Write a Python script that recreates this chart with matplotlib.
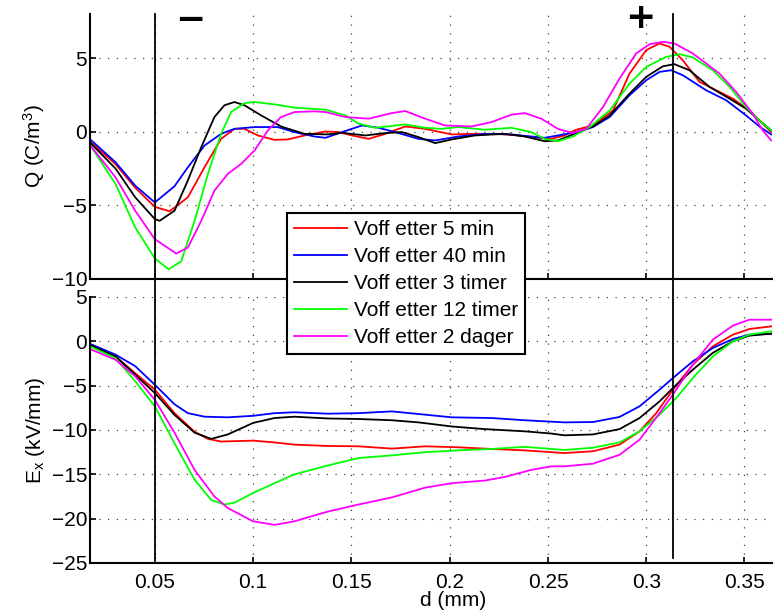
import matplotlib
matplotlib.use('Agg')
import matplotlib.pyplot as plt
import matplotlib.transforms as mtransforms
from matplotlib.lines import Line2D

plt.rcParams['font.family'] = ['Liberation Sans', 'DejaVu Sans']
plt.rcParams['mathtext.default'] = 'regular'
plt.rcParams['font.size'] = 15

# ---- data ----
labels = ['Voff etter 5 min', 'Voff etter 40 min', 'Voff etter 3 timer',
          'Voff etter 12 timer', 'Voff etter 2 dager']
colors = ['#ff0000', '#0000ff', '#000000', '#00ff00', '#ff00ff']

# Q (C/m^3), top panel
q_red_d = [0.0168, 0.030, 0.040, 0.050, 0.0575, 0.0668, 0.0753, 0.0837, 0.0905, 0.0956,
           0.1024, 0.1109, 0.1176, 0.1261, 0.1368, 0.1436, 0.1503, 0.1588, 0.1672, 0.1774,
           0.1875, 0.201, 0.2111, 0.2247, 0.2348, 0.2449, 0.2517, 0.2584, 0.2644, 0.2729,
           0.2831, 0.2915, 0.300, 0.3068, 0.3119, 0.3186, 0.3271, 0.3356, 0.3441, 0.3525, 0.3636]
q_red = [-0.64, -2.2, -3.8, -5.1, -5.4, -4.45, -2.4, -0.48, 0.2, 0.2,
         -0.25, -0.55, -0.52, -0.25, 0.02, -0.02, -0.25, -0.48, -0.14, 0.36,
         0.2, -0.18, -0.14, -0.14, -0.25, -0.41, -0.48, -0.25, 0.14, 0.43,
         1.45, 3.95, 5.55, 6.0, 5.77, 4.86, 3.39, 2.82, 2.25, 1.45, -0.02]

q_blue_d = [0.0168, 0.030, 0.040, 0.050, 0.060, 0.0668, 0.0753, 0.0837, 0.0905, 0.1007,
            0.1125, 0.121, 0.1312, 0.1368, 0.1453, 0.1554, 0.1639, 0.174, 0.1841, 0.1926,
            0.2044, 0.2179, 0.2314, 0.2415, 0.2483, 0.2551, 0.2644, 0.2729, 0.2814, 0.2915,
            0.300, 0.3068, 0.3127, 0.3186, 0.3305, 0.3407, 0.3508, 0.3576, 0.3636]
q_blue = [-0.48, -2.07, -3.66, -4.8, -3.7, -2.41, -0.93, -0.14, 0.2, 0.32,
          0.32, -0.02, -0.32, -0.41, -0.02, 0.43, 0.27, -0.09, -0.48, -0.59,
          -0.32, -0.14, -0.18, -0.32, -0.41, -0.25, -0.02, 0.32, 1.0, 2.48,
          3.5, 4.07, 4.18, 3.84, 2.82, 2.14, 1.11, 0.36, -0.18]

q_black_d = [0.0168, 0.030, 0.040, 0.050, 0.0524, 0.060, 0.0668, 0.0736, 0.0803, 0.0854,
             0.0905, 0.0956, 0.1041, 0.1142, 0.1261, 0.138, 0.1453, 0.1571, 0.1672, 0.1757,
             0.1841, 0.1926, 0.201, 0.2128, 0.228, 0.2382, 0.2483, 0.2551, 0.2644, 0.2729,
             0.2814, 0.2915, 0.300, 0.3085, 0.3144, 0.322, 0.3322, 0.3424, 0.3508, 0.3576, 0.3636]
q_black = [-0.7, -2.5, -4.45, -5.93, -6.05, -5.36, -3.3, -1.05, 1.0, 1.8,
           2.02, 1.8, 1.11, 0.36, -0.14, -0.18, -0.07, -0.25, -0.09, -0.02,
           -0.36, -0.77, -0.52, -0.25, -0.14, -0.32, -0.64, -0.59, -0.09, 0.36,
           1.11, 2.59, 3.73, 4.45, 4.59, 4.18, 3.05, 2.25, 1.57, 0.77, 0.09]

q_green_d = [0.0168, 0.030, 0.040, 0.050, 0.057, 0.0634, 0.0702, 0.077, 0.0837, 0.0888,
             0.0956, 0.1007, 0.1109, 0.121, 0.1368, 0.147, 0.1537, 0.1622, 0.1774, 0.1875,
             0.196, 0.2044, 0.2179, 0.2314, 0.2415, 0.2483, 0.2551, 0.2627, 0.2712, 0.2814,
             0.2915, 0.300, 0.3102, 0.317, 0.3237, 0.3339, 0.3424, 0.3508, 0.3576, 0.3636]
q_green = [-0.86, -3.55, -6.5, -8.6, -9.34, -8.8, -6.05, -2.86, -0.14, 1.34,
           1.95, 2.02, 1.86, 1.64, 1.5, 1.11, 0.55, 0.27, 0.5, 0.27,
           0.2, 0.32, 0.14, 0.27, -0.02, -0.48, -0.64, -0.32, 0.32, 1.45,
           3.27, 4.41, 5.09, 5.27, 5.05, 4.18, 3.05, 1.68, 0.77, 0.09]

q_mag_d = [0.0168, 0.030, 0.040, 0.050, 0.0609, 0.0668, 0.0736, 0.0803, 0.0871, 0.0939,
           0.1007, 0.1075, 0.1142, 0.121, 0.1312, 0.1368, 0.147, 0.1588, 0.1706, 0.1774,
           0.1875, 0.1976, 0.2111, 0.2213, 0.2314, 0.2382, 0.2466, 0.2551, 0.2627, 0.2695,
           0.278, 0.2864, 0.2949, 0.3017, 0.3085, 0.3144, 0.3237, 0.3373, 0.3458, 0.3542,
           0.3593, 0.3636]
q_mag = [-0.86, -3.1, -5.36, -7.3, -8.27, -7.86, -6.05, -4.0, -2.86, -2.18,
         -1.27, 0.09, 1.0, 1.34, 1.39, 1.34, 1.0, 0.89, 1.27, 1.41,
         0.89, 0.43, 0.36, 0.66, 1.16, 1.27, 0.89, 0.2, -0.09, 0.2,
         1.68, 3.61, 5.32, 5.95, 6.11, 6.0, 5.32, 3.95, 2.7, 1.23,
         0.09, -0.59]

# Ex (kV/mm), bottom panel
e_red_d = [0.0168, 0.030, 0.040, 0.050, 0.060, 0.0702, 0.077, 0.0837, 0.100, 0.1109,
           0.121, 0.138, 0.1537, 0.1706, 0.1875, 0.2044, 0.2213, 0.2382, 0.2584, 0.2729,
           0.2864, 0.2966, 0.3051, 0.3136, 0.3237, 0.3339, 0.3441, 0.3525, 0.3636]
e_red = [-0.5, -1.7, -3.6, -5.45, -8.1, -10.2, -11.0, -11.3, -11.2, -11.4,
         -11.65, -11.8, -11.84, -12.1, -11.84, -11.95, -12.14, -12.3, -12.6, -12.4,
         -11.65, -10.15, -8.1, -5.45, -2.63, -0.56, 0.75, 1.39, 1.69]

e_blue_d = [0.0168, 0.030, 0.040, 0.050, 0.060, 0.0668, 0.0753, 0.0871, 0.100, 0.1109,
            0.121, 0.138, 0.1537, 0.1706, 0.1875, 0.201, 0.2213, 0.2382, 0.2584, 0.2729,
            0.2864, 0.2966, 0.3068, 0.3136, 0.3237, 0.3339, 0.3441, 0.3525, 0.3636]
e_blue = [-0.26, -1.5, -2.8, -4.9, -7.1, -8.1, -8.5, -8.57, -8.4, -8.1,
          -8.0, -8.16, -8.1, -7.9, -8.27, -8.57, -8.65, -8.9, -9.14, -9.1,
          -8.53, -7.33, -5.45, -4.14, -2.26, -0.75, 0.26, 0.75, 0.86]

e_black_d = [0.0168, 0.030, 0.040, 0.050, 0.060, 0.0702, 0.0787, 0.0871, 0.100, 0.1109,
             0.121, 0.138, 0.1537, 0.1706, 0.1841, 0.201, 0.2179, 0.2382, 0.2517, 0.2584,
             0.2729, 0.2864, 0.2966, 0.3068, 0.3136, 0.3237, 0.3339, 0.3441, 0.3525, 0.3636]
e_black = [-0.38, -1.7, -3.76, -5.83, -8.3, -10.3, -11.0, -10.5, -9.2, -8.65,
           -8.5, -8.7, -8.76, -8.9, -9.14, -9.6, -9.9, -10.15, -10.4, -10.6,
           -10.5, -9.9, -8.65, -6.77, -5.26, -3.2, -1.3, 0.0, 0.64, 0.86]

e_green_d = [0.0168, 0.030, 0.040, 0.050, 0.060, 0.0702, 0.0787, 0.0854, 0.0905, 0.100,
             0.1109, 0.121, 0.138, 0.1537, 0.1706, 0.1875, 0.2044, 0.2213, 0.2382, 0.2584,
             0.2729, 0.2864, 0.2966, 0.3068, 0.3153, 0.3237, 0.3339, 0.3441, 0.3525, 0.3636]
e_green = [-0.56, -1.9, -4.5, -7.33, -11.5, -15.6, -17.9, -18.4, -18.2, -17.1,
           -16.0, -15.0, -14.0, -13.16, -12.86, -12.5, -12.3, -12.14, -11.9, -12.25,
           -12.0, -11.4, -10.15, -8.27, -6.39, -4.14, -1.7, 0.0, 0.75, 1.13]

e_mag_d = [0.0168, 0.030, 0.040, 0.050, 0.060, 0.0702, 0.0803, 0.0871, 0.100, 0.1109,
           0.121, 0.138, 0.1537, 0.1706, 0.1875, 0.201, 0.2179, 0.228, 0.2415, 0.2517,
           0.2584, 0.2729, 0.2864, 0.2966, 0.3068, 0.3136, 0.3237, 0.3339, 0.3441, 0.3525,
           0.3636]
e_mag = [-0.86, -2.07, -3.95, -6.6, -10.3, -14.5, -17.5, -18.8, -20.3, -20.7,
         -20.3, -19.2, -18.4, -17.6, -16.5, -16.0, -15.7, -15.3, -14.5, -14.1,
         -14.1, -13.8, -12.8, -11.1, -8.1, -6.0, -2.63, 0.19, 1.77, 2.44,
         2.44]

q_series = [(q_red_d, q_red), (q_blue_d, q_blue), (q_black_d, q_black),
            (q_green_d, q_green), (q_mag_d, q_mag)]
e_series = [(e_red_d, e_red), (e_blue_d, e_blue), (e_black_d, e_black),
            (e_green_d, e_green), (e_mag_d, e_mag)]

x_ticks = [0.05, 0.1, 0.15, 0.2, 0.25, 0.3, 0.35]
x_ticklabels = ['0.05', '0.1', '0.15', '0.2', '0.25', '0.3', '0.35']
q_ticks = [-10, -5, 0, 5]
e_ticks = [-25, -20, -15, -10, -5, 0, 5]
marker_d = [0.05, 0.3137]   # vertical marker lines

# ---- figure ----
W, H = 773, 610
fig = plt.figure(figsize=(W / 100, H / 100), dpi=100)
ax1 = fig.add_axes([90 / W, 1 - 279 / H, 682 / W, 265 / H])
ax2 = fig.add_axes([90 / W, 1 - 563 / H, 682 / W, 266 / H])

for ax in (ax1, ax2):
    for s in ('top', 'right'):
        ax.spines[s].set_visible(False)
    for s in ('left', 'bottom'):
        ax.spines[s].set_linewidth(1.5)
    ax.set_xlim(0.017, 0.364)
    ax.set_xticks(x_ticks)
    ax.grid(True, color='0.25', linestyle=(0, (1, 6)), linewidth=0.9)
    ax.tick_params(direction='in', length=4, width=1.2, pad=2, labelsize=15)

for (d, v), c in zip(q_series, colors):
    ax1.plot(d, v, color=c, lw=1.3)
for (d, v), c, lab in zip(e_series, colors, labels):
    ax2.plot(d, v, color=c, lw=1.3, label=lab)

ax1.set_ylim(-10, 8)
ax1.set_yticks(q_ticks)
ax1.set_yticklabels(['\u221210', '\u22125', '0', '5'])
ax1.set_xticklabels([])
ax1.set_ylabel('Q (C/m$^3$)', fontsize=15, labelpad=3)

ax2.set_ylim(-25, 5)
ax2.set_yticks(e_ticks)
ax2.set_yticklabels(['\u221225', '\u221220', '\u221215', '\u221210', '\u22125', '0', '5'])
ax2.set_xticklabels(x_ticklabels)
ax2.tick_params(axis='x', pad=7)
ax2.set_ylabel('E$_x$ (kV/mm)', fontsize=15, labelpad=3)
fig.text(453 / W, 1 - 601 / H, 'd (mm)', ha='center', va='center', fontsize=15)

# vertical markers spanning both panels
tr = mtransforms.blended_transform_factory(ax2.transData, fig.transFigure)
for xd in marker_d:
    fig.add_artist(Line2D([xd, xd], [1 - 14 / H, 1 - 558 / H], transform=tr,
                          color='black', lw=1.3))

fig.text(190 / W, 1 - 20 / H, '\u2212', ha='center', va='center',
         fontsize=26, fontweight='bold', family='DejaVu Sans')
fig.text(640 / W, 1 - 18 / H, '+', ha='center', va='center',
         fontsize=26, fontweight='bold', family='DejaVu Sans')

handles, labs = ax2.get_legend_handles_labels()
leg = fig.legend(handles, labs, loc='upper left',
                 bbox_to_anchor=(287 / W, 1 - 213 / H), fontsize=15,
                 frameon=True, fancybox=False, framealpha=1, edgecolor='black',
                 handlelength=2.55, handletextpad=0.3, labelspacing=0.38,
                 borderpad=0.35, borderaxespad=0)
leg.get_frame().set_linewidth(1.5)

fig.savefig('out.png', dpi=100)
